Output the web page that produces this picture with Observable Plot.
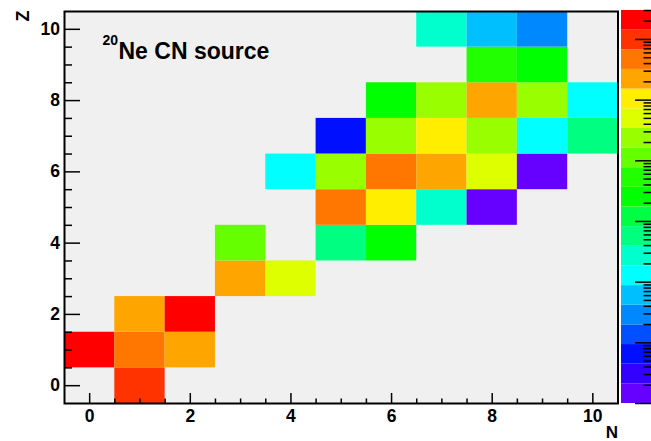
<!DOCTYPE html>
<html>
<head>
<meta charset="utf-8">
<script src="https://cdn.jsdelivr.net/npm/d3@7"></script>
<script src="https://cdn.jsdelivr.net/npm/@observablehq/plot@0.6"></script>
<style>
  body { margin: 0; background: #fff; }
  #chart { position: relative; width: 651px; height: 441px; overflow: hidden; }
  #chart svg { position: absolute; top: 0; }
</style>
</head>
<body>
<div id="chart"></div>
<script>
// ---- data: (N, Z) cells of the 20Ne compound-nucleus source and their yields ----
const neutronN = [1, 0, 1, 2, 1, 2, 3, 4, 3, 5, 6, 5, 6, 7, 8, 4, 5, 6, 7, 8, 9, 5, 6, 7, 8, 9, 10, 6, 7, 8, 9, 10, 8, 9, 7, 8, 9];
const protonZ  = [0, 1, 1, 1, 2, 2, 3, 3, 4, 4, 4, 5, 5, 5, 5, 6, 6, 6, 6, 6, 6, 7, 7, 7, 7, 7, 7, 8, 8, 8, 8, 8, 9, 9, 10, 10, 10];
const yieldValues = [0.95, 2.2, 0.45, 0.24, 0.21, 1.7, 0.19, 0.052, 0.011, 5.5e-4, 2.6e-3,
  0.42, 0.11, 2.6e-4, 1.6e-6, 1.2e-4, 0.023, 0.50, 0.23, 0.047, 1.4e-6,
  6.3e-6, 0.025, 0.098, 0.022, 1.3e-4, 5.9e-4, 2.4e-3, 0.024, 0.22, 0.026, 1.25e-4,
  5.2e-3, 2.6e-3, 2.8e-4, 6.1e-5, 2.8e-5];

// palette (bottom -> top) and z range of the colour axis
const palette = ["#6600ff", "#3300ff", "#0010ff", "#0050ff", "#0088ff", "#00bfff", "#00ffff", "#00ffcc",
  "#00ff80", "#00ff44", "#00ff00", "#22ff00", "#66ff00", "#99ff00", "#ddff00", "#ffee00",
  "#ffa500", "#ff7700", "#ff3300", "#ff0000"];
const zRange = [1e-6, 3];

// axis ticks
const xLabelTicks = [0, 2, 4, 6, 8, 10];
const xMinorTicks = [0.5, 1, 1.5, 2.5, 3, 3.5, 4.5, 5, 5.5, 6.5, 7, 7.5, 8.5, 9, 9.5];
const yLabelTicks = [0, 2, 4, 6, 8, 10];
const yMinorTicks = [0.5, 1, 1.5, 2.5, 3, 3.5, 4.5, 5, 5.5, 6.5, 7, 7.5, 8.5, 9, 9.5];
const xDomain = [-0.5, 10.5];
const yDomain = [-0.5, 10.5];

// texts
const xTitle = "N";
const yTitle = "Z";
const labelMass = "20";
const labelText = "Ne CN source";

// ---- layout ----
const W = 651, H = 441;
const mL = 64, mR = 33.5, mT = 11, mB = 38;
const frameW = W - mL - mR, frameH = H - mT - mB;
const font = "'Liberation Sans', Arial, Helvetica, sans-serif";

const cells = neutronN.map((n, i) => ({N: n, Z: protonZ[i], v: yieldValues[i]}));
const thresholds = d3.range(1, palette.length)
  .map(i => zRange[0] * Math.pow(zRange[1] / zRange[0], i / palette.length));
const colorScale = {type: "threshold", domain: thresholds, range: palette};

const tickStyle = {stroke: "#000", strokeWidth: 1.5};

const main = Plot.plot({
  width: W, height: H,
  marginLeft: mL, marginRight: mR, marginTop: mT, marginBottom: mB,
  style: {fontFamily: font, fontWeight: "bold", fontSize: "17.5px", background: "transparent", color: "#000"},
  x: {domain: xDomain},
  y: {domain: yDomain},
  color: colorScale,
  marks: [
    Plot.frame({fill: "#f0f0f0"}),
    Plot.rect(cells, {x1: d => d.N - 0.5, x2: d => d.N + 0.5, y1: d => d.Z - 0.5, y2: d => d.Z + 0.5, fill: "v"}),
    Plot.tickX(xMinorTicks, {x: d => d, insetTop: frameH - 4.5, ...tickStyle}),
    Plot.tickX(xLabelTicks, {x: d => d, insetTop: frameH - 10, ...tickStyle}),
    Plot.tickY(yMinorTicks, {y: d => d, insetRight: frameW - 8, ...tickStyle}),
    Plot.tickY(yLabelTicks, {y: d => d, insetRight: frameW - 16, ...tickStyle}),
    Plot.axisX(xLabelTicks, {tickSize: 0, tickPadding: 6, label: null}),
    Plot.axisY(yLabelTicks, {tickSize: 0, tickPadding: 4.5, label: null}),
    Plot.frame({stroke: "#000", strokeWidth: 2}),
    Plot.text([labelMass], {text: d => d, frameAnchor: "top-left", dx: 38, dy: 33, textAnchor: "start", lineAnchor: "bottom", fontSize: 14}),
    Plot.text([labelText], {text: d => d, frameAnchor: "top-left", dx: 54, dy: 47, textAnchor: "start", lineAnchor: "bottom", fontSize: 23}),
    Plot.text([yTitle], {text: d => d, frameAnchor: "top-left", dx: -36, dy: -1, rotate: -90, textAnchor: "end", lineAnchor: "bottom", fontSize: 18}),
    Plot.text([xTitle], {text: d => d, frameAnchor: "bottom-right", dy: 34.5, textAnchor: "end", lineAnchor: "bottom", fontSize: 17})
  ]
});

// ---- colour palette axis ----
const edges = [zRange[0], ...thresholds, zRange[1]];
const bands = palette.map((c, i) => ({lo: edges[i], hi: edges[i + 1]}));
const zTicks = d3.scaleLog().domain(zRange).ticks();
const isDecade = t => Math.abs(Math.log10(t) - Math.round(Math.log10(t))) < 1e-9;
const zMajor = zTicks.filter(isDecade);
const zMinor = zTicks.filter(t => !isDecade(t));
const barW = 30;

const bar = Plot.plot({
  width: barW, height: H,
  marginLeft: 0, marginRight: 0, marginTop: mT - 1, marginBottom: mB,
  style: {background: "transparent"},
  y: {type: "log", domain: zRange, axis: null},
  color: colorScale,
  marks: [
    Plot.rect(bands, {y1: "lo", y2: "hi", fill: d => Math.sqrt(d.lo * d.hi)}),
    Plot.tickY(zMinor, {y: d => d, insetLeft: barW - 7.5, ...tickStyle}),
    Plot.tickY(zMajor, {y: d => d, insetLeft: barW - 16, ...tickStyle})
  ]
});

const chart = document.getElementById("chart");
main.style.left = "0px";
bar.style.left = "621px";
chart.appendChild(main);
chart.appendChild(bar);
</script>
</body>
</html>
